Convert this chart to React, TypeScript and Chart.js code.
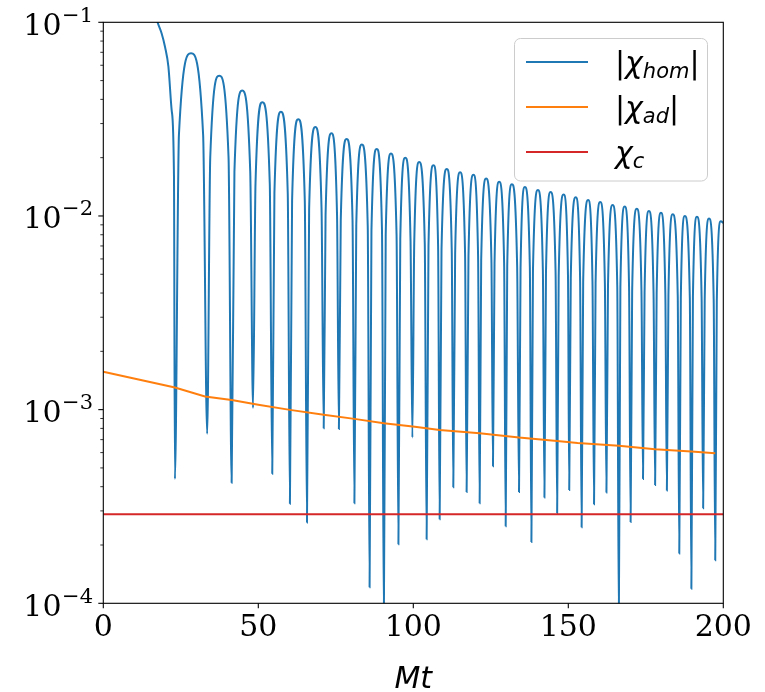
import React, { useEffect, useRef } from "react";
import { Chart, registerables } from "chart.js";

Chart.register(...registerables);

// ---------- data ----------
// |chi_hom| : entry from above the frame, then per lobe: dip, rising shoulder, peak, falling shoulder
const leadX = [16.0, 17.5, 18.8, 19.9, 21.0, 22.05, 22.8];
const leadY = [0.122, 0.1, 0.0878, 0.0748, 0.059, 0.0352, 0.016];
const dipX = [23.1, 33.5, 41.4, 48.3, 54.5, 60.2, 65.7, 71.1, 76.0, 81.0, 85.9, 90.5, 95.2, 99.7, 104.3, 108.5, 112.9, 117.2, 121.4, 125.7, 129.8, 134.1, 138.1, 142.3, 146.4, 150.3, 154.3, 158.3, 162.3, 166.3, 170.1, 174.1, 178.0, 181.8, 185.8, 189.7, 193.5, 197.4];
const dipY = [4.39e-4, 7.5e-4, 4.19e-4, 1.02e-3, 4.66e-4, 3.27e-4, 2.61e-4, 8.02e-4, 7.95e-4, 3.29e-4, 1.21e-4, 8e-5, 2.02e-4, 7.17e-4, 2.14e-4, 2.72e-4, 3.97e-4, 3.76e-4, 3.29e-4, 5.1e-4, 2.5e-4, 3.76e-4, 2.07e-4, 3.52e-4, 2.92e-4, 3.85e-4, 2.47e-4, 3.25e-4, 3.73e-4, 8e-5, 2.63e-4, 4.39e-4, 4.08e-4, 3.82e-4, 1.81e-4, 1.19e-4, 3.1e-4, 1.67e-4];
const riseX = [24.4, 34.5, 42.3, 49.1, 55.2, 60.9, 66.4, 71.7, 76.6, 81.6, 86.5, 91.1, 95.8, 100.3, 104.9, 109.1, 113.5, 117.8, 121.9, 126.2, 130.3, 134.6, 138.6, 142.8, 146.9, 150.8, 154.8, 158.8, 162.8, 166.8, 170.6, 174.6, 178.5, 182.3, 186.3, 190.2, 194.0, 197.9];
const peakX = [28.3, 37.4, 44.8, 51.3, 57.3, 62.9, 68.4, 73.6, 78.5, 83.4, 88.2, 92.8, 97.4, 101.9, 106.5, 110.8, 115.1, 119.4, 123.5, 127.7, 131.8, 136.0, 140.2, 144.3, 148.5, 152.4, 156.4, 160.3, 164.3, 168.2, 172.1, 176.0, 179.9, 183.7, 187.6, 191.5, 195.4, 199.2];
const peakY = [0.0692, 0.053, 0.0444, 0.0387, 0.0345, 0.0316, 0.0288, 0.0267, 0.025, 0.0234, 0.0222, 0.021, 0.02, 0.019, 0.0183, 0.0175, 0.0168, 0.0163, 0.0156, 0.015, 0.0146, 0.0141, 0.0136, 0.0133, 0.0129, 0.0125, 0.0121, 0.0118, 0.0114, 0.0112, 0.0109, 0.0106, 0.0104, 0.0102, 0.01, 0.0099, 0.0097, 0.0094];
const fallX = [32.2, 40.4, 47.4, 53.7, 59.5, 65.0, 70.4, 75.4, 80.4, 85.3, 89.9, 94.6, 99.1, 103.7, 108.0, 112.4, 116.7, 120.9, 125.2, 129.3, 133.5, 137.6, 141.8, 145.9, 149.9, 153.8, 157.8, 161.8, 165.8, 169.6, 173.6, 177.5, 181.3, 185.3, 189.2, 193.0, 196.9];
const shoulderY = [0.0263, 0.0201, 0.0169, 0.0147, 0.0131, 0.012, 0.0109, 0.0101, 0.0095, 0.0089, 0.0084, 0.008, 0.0076, 0.0072, 0.007, 0.0067, 0.0064, 0.0062, 0.0059, 0.0057, 0.0055, 0.0054, 0.0052, 0.0051, 0.0049, 0.0048, 0.0046, 0.0045, 0.0043, 0.0043, 0.0041, 0.004, 0.004, 0.0039, 0.0038, 0.0038, 0.0037, 0.0036];
const tailX = [200];
const tailY = [0.0092];

// |chi_ad|
const adX = [0, 23.1, 32.8, 41.4, 50.0, 60.2, 71.1, 81.0, 90.5, 100.5, 108.5, 121.4, 134.1, 146.4, 153.0, 166.3, 178.0, 189.7, 197.4];
const adY = [1.57e-3, 1.3e-3, 1.17e-3, 1.12e-3, 1.06e-3, 9.97e-4, 9.4e-4, 8.96e-4, 8.51e-4, 8.16e-4, 7.85e-4, 7.55e-4, 7.17e-4, 6.89e-4, 6.72e-4, 6.5e-4, 6.24e-4, 6.07e-4, 5.95e-4];

// chi_c
const cX = [0, 200];
const cY = [2.88e-4, 2.88e-4];

// axes
const xTicks = [0, 50, 100, 150, 200];
const xTickLabels = ["0", "50", "100", "150", "200"];
const yMajorExp = [-4, -3, -2, -1];
const yMinorMult = [2, 3, 4, 5, 6, 7, 8, 9];
const xTitle = "Mt";

// legend: [text, italic, subscript]
const legendColors = ["#1f77b4", "#ff7f0e", "#d62728"];
const legendParts: [string, boolean, boolean][][] = [
  [["|", false, false], ["χ", true, false], ["hom", true, true], ["|", false, false]],
  [["|", false, false], ["χ", true, false], ["ad", true, true], ["|", false, false]],
  [["χ", true, false], ["c", true, true]],
];

const SERIF = "'DejaVu Serif'";
const SANS = "'DejaVu Sans'";

export default function App() {
  const ref = useRef<HTMLCanvasElement>(null);

  useEffect(() => {
    document.body.style.margin = "0";
    const canvas = ref.current!;

    const hom: { x: number; y: number }[] = [];
    leadX.forEach((x, i) => hom.push({ x, y: leadY[i] }));
    dipX.forEach((x, i) => {
      hom.push({ x, y: dipY[i] });
      hom.push({ x: riseX[i], y: shoulderY[i] });
      hom.push({ x: peakX[i], y: peakY[i] });
      if (i < fallX.length) hom.push({ x: fallX[i], y: shoulderY[i] });
    });
    tailX.forEach((x, i) => hom.push({ x, y: tailY[i] }));
    const ad = adX.map((x, i) => ({ x, y: adY[i] }));
    const cc = cX.map((x, i) => ({ x, y: cY[i] }));

    const axesPlugin = {
      id: "mplAxes",
      afterDatasetsDraw(chart: any) {
        const ctx: CanvasRenderingContext2D = chart.ctx;
        const { left, right, top, bottom } = chart.chartArea;
        const xs = chart.scales.x;
        const ys = chart.scales.y;
        ctx.save();
        ctx.strokeStyle = "#000";
        ctx.fillStyle = "#000";
        ctx.lineWidth = 1.1;
        ctx.strokeRect(left, top, right - left, bottom - top);

        const seg = (x1: number, y1: number, x2: number, y2: number, w: number) => {
          ctx.lineWidth = w;
          ctx.beginPath();
          ctx.moveTo(x1, y1);
          ctx.lineTo(x2, y2);
          ctx.stroke();
        };

        // x ticks + labels
        ctx.font = `30px ${SERIF}`;
        ctx.textAlign = "center";
        ctx.textBaseline = "alphabetic";
        xTicks.forEach((v, i) => {
          const px = xs.getPixelForValue(v);
          seg(px, bottom, px, bottom + 5, 1.1);
          ctx.fillText(xTickLabels[i], px, bottom + 33);
        });

        // y ticks
        yMajorExp.forEach((e) => {
          const py = ys.getPixelForValue(Math.pow(10, e));
          seg(left - 5, py, left, py, 1.1);
          if (e < -1) {
            yMinorMult.forEach((m) => {
              const pm = ys.getPixelForValue(m * Math.pow(10, e));
              seg(left - 3, pm, left, pm, 0.8);
            });
          }
          // label 10^e
          const sup = "\u2212" + String(-e);
          ctx.textAlign = "right";
          ctx.font = `21px ${SERIF}`;
          const supW = ctx.measureText(sup).width;
          const rx = left - 10.3;
          ctx.fillText(sup, rx, py - 0.5);
          ctx.font = `30px ${SERIF}`;
          ctx.fillText("10", rx - supW - 0.5, py + 12.5);
        });

        // x title
        ctx.textAlign = "center";
        ctx.font = `italic 30px ${SANS}`;
        ctx.fillText(xTitle, (left + right) / 2, 688);

        // legend
        const bx = 514.5, by = 38.5, bw = 193, bh = 142.5, r = 6;
        ctx.beginPath();
        ctx.moveTo(bx + r, by);
        ctx.arcTo(bx + bw, by, bx + bw, by + bh, r);
        ctx.arcTo(bx + bw, by + bh, bx, by + bh, r);
        ctx.arcTo(bx, by + bh, bx, by, r);
        ctx.arcTo(bx, by, bx + bw, by, r);
        ctx.closePath();
        ctx.fillStyle = "rgba(255,255,255,0.8)";
        ctx.fill();
        ctx.strokeStyle = "#cccccc";
        ctx.lineWidth = 1;
        ctx.stroke();

        ctx.textAlign = "left";
        legendParts.forEach((parts, i) => {
          const ry = 62 + i * 45;
          ctx.strokeStyle = legendColors[i];
          seg(526, ry, 588, ry, 2);
          ctx.fillStyle = "#000";
          let x = 615;
          parts.forEach(([t, it, sub]) => {
            const size = sub ? 21 : 30;
            ctx.font = `${it ? "italic " : ""}${size}px ${SANS}`;
            ctx.fillText(t, x, ry + 11 + (sub ? 4.5 : 0));
            x += ctx.measureText(t).width;
          });
        });
        ctx.restore();
      },
    };

    const chart = new Chart(canvas, {
      type: "line",
      data: {
        datasets: [
          {
            label: "|χhom|",
            data: hom,
            borderColor: "#1f77b4",
            borderWidth: 2,
            cubicInterpolationMode: "monotone",
            pointRadius: 0,
            order: 3,
          },
          {
            label: "|χad|",
            data: ad,
            borderColor: "#ff7f0e",
            borderWidth: 2,
            tension: 0,
            pointRadius: 0,
            order: 2,
          },
          {
            label: "χc",
            data: cc,
            borderColor: "#d62728",
            borderWidth: 2,
            tension: 0,
            pointRadius: 0,
            order: 1,
          },
        ],
      },
      options: {
        responsive: false,
        maintainAspectRatio: false,
        animation: false,
        devicePixelRatio: 1,
        layout: { padding: { left: 103.3, top: 22.3, right: 41.7, bottom: 88.7 } },
        scales: {
          x: { type: "linear", min: 0, max: 200, display: false },
          y: { type: "logarithmic", min: 1e-4, max: 1e-1, display: false },
        },
        plugins: { legend: { display: false }, tooltip: { enabled: false } },
        elements: { point: { radius: 0 } },
      },
      plugins: [axesPlugin],
    } as any);

    return () => chart.destroy();
  }, []);

  return <canvas ref={ref} width={765} height={692} style={{ display: "block" }} />;
}
